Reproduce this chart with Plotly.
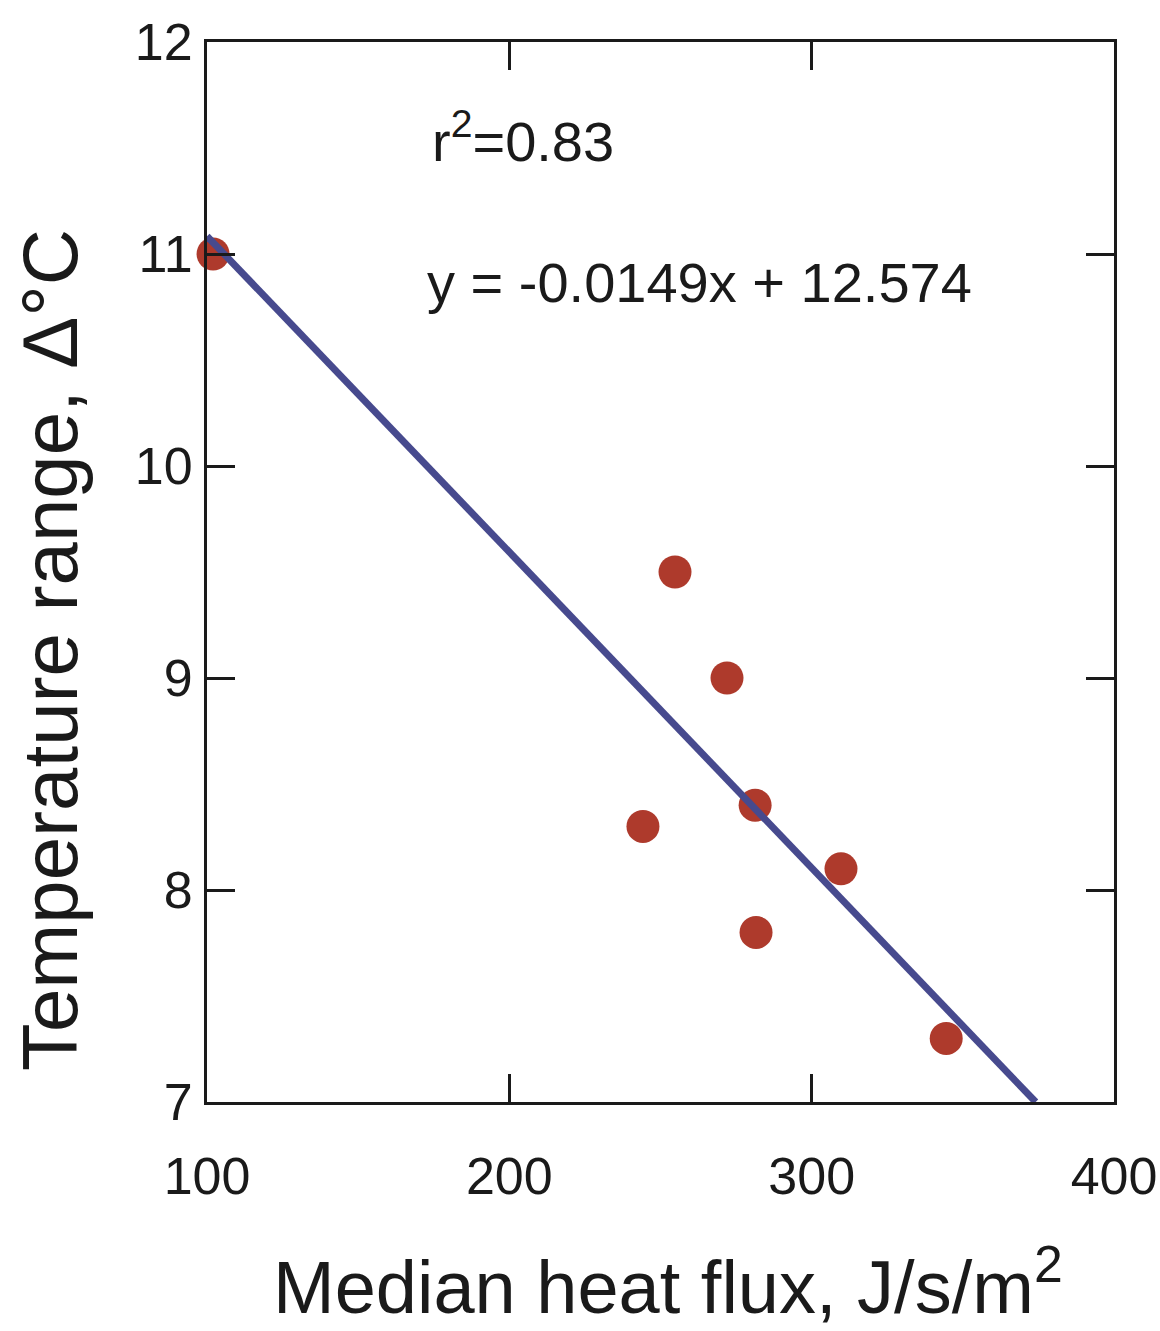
import plotly.graph_objects as go

# Observed stream data: median heat flux vs. daily temperature range
heat_flux = [102, 254.8, 272, 244.2, 281.3, 309.7, 281.6, 344.5]
temp_range = [11.0, 9.5, 9.0, 8.3, 8.4, 8.1, 7.8, 7.3]

# Least-squares fit reported on the chart
slope = -0.0149
intercept = 12.574
r_squared = 0.83
fit_x = [100, (7 - intercept) / slope]
fit_y = [slope * v + intercept for v in fit_x]

x_ticks = [100, 200, 300, 400]
y_ticks = [7, 8, 9, 10, 11, 12]

FONT = "Liberation Sans, Arial, sans-serif"
INK = "#1a1a1a"

fig = go.Figure()

fig.add_trace(go.Scatter(
    x=heat_flux, y=temp_range, mode="markers",
    marker=dict(size=33, color="#ae3a2c", line=dict(width=0)),
    cliponaxis=False, showlegend=False,
))

fig.add_trace(go.Scatter(
    x=fit_x, y=fit_y, mode="lines",
    line=dict(color="#474a8e", width=7),
    cliponaxis=False, showlegend=False,
))

axis_common = dict(
    showline=True, linecolor=INK, linewidth=3, mirror="ticks",
    ticks="inside", ticklen=28, tickwidth=3, tickcolor=INK,
    showgrid=False, zeroline=False, automargin=False,
    tickfont=dict(family=FONT, size=52, color=INK),
)

fig.update_xaxes(range=[100, 400], tickvals=x_ticks, ticklabelstandoff=27, **axis_common)
fig.update_yaxes(range=[7, 12], tickvals=y_ticks, ticklabelstandoff=1, **axis_common)

fig.add_annotation(
    x=173.8, y=11.55, xref="x", yref="y", xanchor="left", yanchor="middle",
    text=f"r<sup>2</sup>={r_squared}", showarrow=False,
    font=dict(family=FONT, size=56, color=INK),
)
fig.add_annotation(
    x=172.1, y=10.864, xref="x", yref="y", xanchor="left", yanchor="middle",
    text=f"y = {slope}x + {intercept}", showarrow=False,
    font=dict(family=FONT, size=56, color=INK),
)

# Axis titles
fig.add_annotation(
    x=0.508, y=-0.17, xref="paper", yref="paper", xanchor="center", yanchor="middle",
    text="Median heat flux, J/s/m<sup>2</sup>", showarrow=False,
    font=dict(family=FONT, size=74, color=INK),
)
fig.add_annotation(
    x=-0.1731, y=0.4264, xref="paper", yref="paper", xanchor="center", yanchor="middle",
    text="Temperature range, \u0394\u00b0C", textangle=-90, showarrow=False,
    font=dict(family=FONT, size=78, color=INK),
)

fig.update_layout(
    width=1160, height=1331,
    margin=dict(l=207, r=46, t=42, b=229, autoexpand=False),
    paper_bgcolor="white", plot_bgcolor="white",
)

fig.write_html("out.html")
